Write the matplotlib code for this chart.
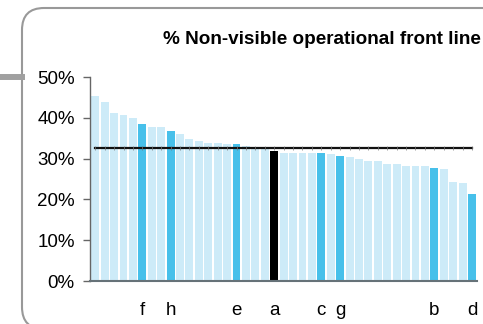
import numpy as np
import matplotlib
matplotlib.use("Agg")
import matplotlib.pyplot as plt
import matplotlib.transforms as mtransforms
from matplotlib.patches import FancyBboxPatch
from matplotlib.lines import Line2D
from matplotlib.ticker import PercentFormatter

# share of non-visible operational front line, sorted descending
values = [45.3, 43.9, 41.2, 40.7, 40.0, 38.5, 37.7, 37.7, 36.8, 36.0,
          34.8, 34.3, 33.8, 33.8, 33.6, 33.6, 33.1, 32.6, 32.4, 31.9,
          31.4, 31.4, 31.4, 31.4, 31.4, 31.1, 30.6, 30.4, 29.9, 29.4,
          29.4, 28.7, 28.7, 28.2, 28.2, 28.2, 27.7, 27.5, 24.3, 24.0,
          21.3]
# highlighted units: index -> label
highlight_idx = [5, 8, 15, 19, 24, 26, 36, 40]
highlight_lbl = ["f", "h", "e", "a", "c", "g", "b", "d"]
focus_lbl = "a"
average = 32.5

light = "#cdebf8"
dark = "#47c0ea"

plt.rcParams["font.family"] = ["Liberation Sans", "DejaVu Sans"]

fig = plt.figure(figsize=(4.83, 3.24), dpi=100)
ax = fig.add_axes([0.1863, 0.1327, 0.8007, 0.6296])

x = np.arange(len(values))
colors = [light] * len(values)
for i, lbl in zip(highlight_idx, highlight_lbl):
    colors[i] = "black" if lbl == focus_lbl else dark
ax.bar(x, np.array(values) / 100, width=0.84, color=colors, zorder=1)

# average line with small markers at each unit
ax.plot(x, [average / 100] * len(x), color="#111111", lw=1.6, zorder=3,
        marker="|", ms=2.5, mew=0.5, mec="#777777")

ax.set_xlim(-0.56, len(values) - 0.5)
ax.set_ylim(0, 0.5)
ax.yaxis.set_major_formatter(PercentFormatter(1.0, decimals=0))
ax.set_yticks(np.arange(0, 0.51, 0.1))
ax.set_xticks(highlight_idx)
ax.set_xticklabels(highlight_lbl)
ax.tick_params(axis="y", length=5, width=1, color="#666666", labelsize=13.5, pad=6)
ax.tick_params(axis="x", length=0, labelsize=13.5, pad=15)

for s in ["top", "right"]:
    ax.spines[s].set_visible(False)
ax.spines["left"].set_color("#666666")
ax.spines["left"].set_linewidth(1)
ax.spines["bottom"].set_color("#667278")
ax.spines["bottom"].set_linewidth(1.5)

# title
fig.text(322 / 483, (324 - 44) / 324, "% Non-visible operational front line",
         ha="center", va="baseline", fontsize=13.6, fontweight="bold")

# rounded frame and connector stub, in pixel coordinates
pix = mtransforms.IdentityTransform()
frame = FancyBboxPatch((22, -5), 520, 321, boxstyle="round,pad=0,rounding_size=22",
                       transform=pix, fill=False, edgecolor="#999999", lw=1.5)
fig.patches.append(frame)
fig.lines.append(Line2D([0, 22], [247, 247], transform=pix, color="#a0a0a0", lw=4.3))

fig.savefig("out.png", dpi=100)
